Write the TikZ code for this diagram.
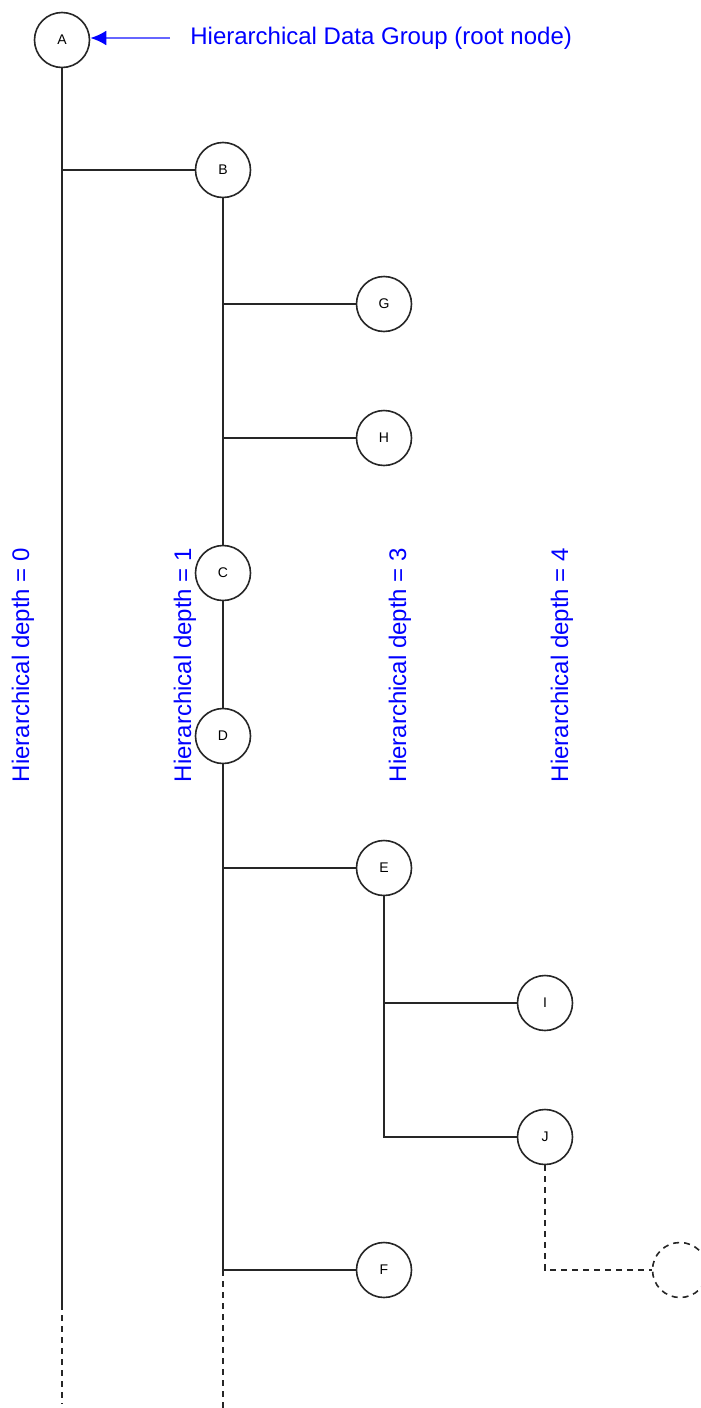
\documentclass[tikz,border=0pt]{standalone}
\usepackage{fontspec}
\setmainfont{Liberation Sans}
\usetikzlibrary{arrows,arrows.meta,positioning}
\tikzstyle{vertex} = [circle, draw, line width=0.8pt, black!85,
    minimum size=27.5pt, inner sep=0pt, text=black, font=\fontsize{7}{8}\selectfont]
\tikzstyle{ghost} = [vertex, dash pattern=on 3pt off 2.5pt]
\tikzstyle{line} = [draw, line width=0.8pt, black!85]
\tikzstyle{more} = [line, dash pattern=on 3pt off 2.5pt]
\tikzstyle{note} = [text=blue, inner sep=0pt, font=\fontsize{12}{14}\selectfont]
\tikzstyle{depth} = [note, rotate=90]
\tikzstyle{pointer} = [draw, blue!60, line width=1.2pt, -{Latex[length=8pt,width=7.5pt,color=blue]}]

\begin{document}
\begin{tikzpicture}[x=0.5pt,y=-0.5pt]
    \useasboundingbox (0,0) rectangle (701,1408);
    % Place nodes
    \node [vertex] (A) at (62,40) {A};
    \node [vertex] (B) at (223,170) {B};
    \node [vertex] (G) at (384,304) {G};
    \node [vertex, below of=G, node distance=67pt] (H) {H};
    \node [vertex] (C) at (223,573) {C};
    \node [vertex, below of=C, node distance=81.5pt] (D) {D};
    \node [vertex] (E) at (384,868) {E};
    \node [vertex] (I) at (545,1003) {I};
    \node [vertex, below of=I, node distance=67pt] (J) {J};
    \node [vertex] (F) at (384,1270) {F};
    \node [ghost] (K) at (680,1270) {};
    \coordinate (endA) at (62,1304);
    \coordinate (tailA) at (62,1404);
    \coordinate (tailB) at (223,1408);
    % Labels
    \node [note, anchor=west] (title) at (190,38) {Hierarchical Data Group (root node)};
    \node [depth] (d0) at (23,665) {Hierarchical depth = 0};
    \node [depth] (d1) at (185,665) {Hierarchical depth = 1};
    \node [depth] (d3) at (400,665) {Hierarchical depth = 3};
    \node [depth] (d4) at (562,665) {Hierarchical depth = 4};
    % Draw edges
    \path [pointer] ([xshift=-10pt]title.west) -- (title.west -| A.east);
    \path [line] (A) -- (endA);
    \path [more] (endA) -- (tailA);
    \path [line] (A |- B) -- (B);
    \path [line] (B) -- (C);
    \path [line] (C) -- (D);
    \path [line] (D) |- (F);
    \path [more] (D |- F) -- (tailB);
    \path [line] (B |- G) -- (G);
    \path [line] (B |- H) -- (H);
    \path [line] (D |- E) -- (E);
    \path [line] (E) |- (J);
    \path [line] (E |- I) -- (I);
    \path [more] (J) |- (K);
\end{tikzpicture}
\end{document}
